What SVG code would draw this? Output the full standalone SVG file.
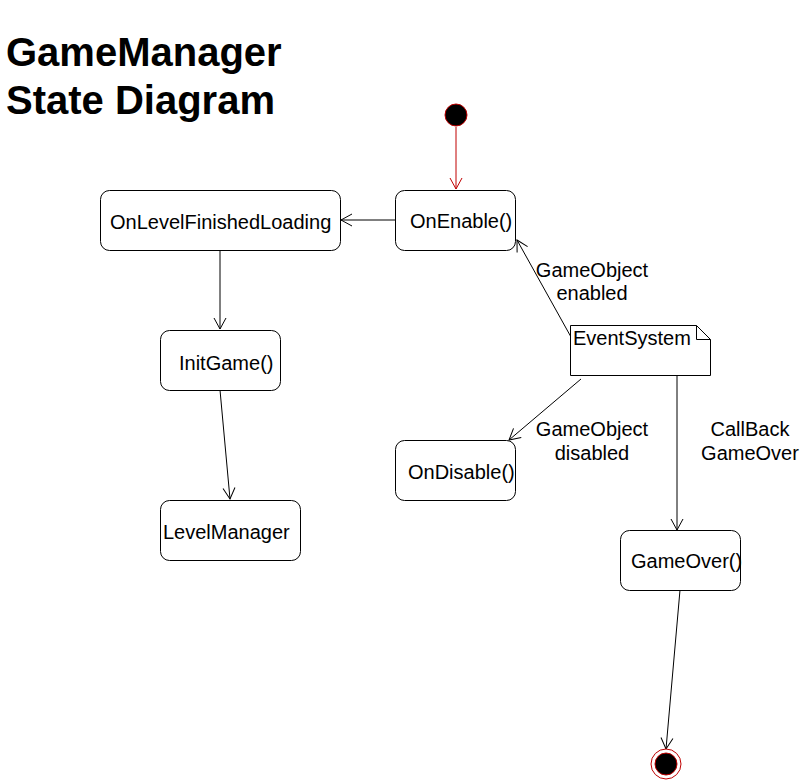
<svg xmlns="http://www.w3.org/2000/svg" width="800" height="781" viewBox="0 0 800 781">
<style>
.node{fill:#fff;stroke:#000;stroke-width:1}
.t{font-family:"Liberation Sans",Arial,sans-serif;font-size:20px;fill:#000}
.title{font-family:"Liberation Sans",Arial,sans-serif;font-size:40px;font-weight:bold;fill:#000}
.edge{stroke:#000;stroke-width:1;fill:none}
.red{stroke:#c00000;stroke-width:1;fill:none}
</style>
<defs>
<marker id="a" viewBox="0 0 14 14" refX="12" refY="7" markerWidth="14" markerHeight="14" markerUnits="userSpaceOnUse" orient="auto">
<path d="M1,1 L12,7 L1,13" fill="none" stroke="#000" stroke-width="1"/>
</marker>
<marker id="ar" viewBox="0 0 14 14" refX="12" refY="7" markerWidth="14" markerHeight="14" markerUnits="userSpaceOnUse" orient="auto">
<path d="M1,1 L12,7 L1,13" fill="none" stroke="#c00000" stroke-width="1"/>
</marker>
</defs>
<rect width="800" height="781" fill="#fff"/>
<g id="title">
<text class="title" x="6" y="66">GameManager</text>
<text class="title" x="6" y="114">State Diagram</text>
</g>
<g id="connectors">
<line class="red" x1="456" y1="127" x2="456" y2="189" marker-end="url(#ar)"/>
<line class="edge" x1="395" y1="220" x2="341" y2="220" marker-end="url(#a)"/>
<line class="edge" x1="220" y1="250" x2="220" y2="329" marker-end="url(#a)"/>
<line class="edge" x1="220" y1="390" x2="230" y2="499" marker-end="url(#a)"/>
<line class="edge" x1="571" y1="337" x2="517" y2="240" marker-end="url(#a)"/>
<line class="edge" x1="581" y1="379" x2="509" y2="440" marker-end="url(#a)"/>
<line class="edge" x1="677" y1="375" x2="677" y2="530" marker-end="url(#a)"/>
<line class="edge" x1="680" y1="590" x2="666" y2="749" marker-end="url(#a)"/>
<text class="t" x="592" y="277" text-anchor="middle">GameObject</text>
<text class="t" x="592" y="300" text-anchor="middle">enabled</text>
<text class="t" x="592" y="436" text-anchor="middle">GameObject</text>
<text class="t" x="592" y="460" text-anchor="middle">disabled</text>
<text class="t" x="750" y="436" text-anchor="middle">CallBack</text>
<text class="t" x="750" y="460" text-anchor="middle">GameOver</text>
</g>
<g id="start">
<circle cx="456" cy="115" r="11" fill="#000" stroke="#c00000" stroke-width="1"/>
</g>
<g id="end">
<circle cx="666" cy="764" r="15" fill="#fff" stroke="#c00000" stroke-width="1"/>
<circle cx="666" cy="764" r="11" fill="#000" stroke="#c00000" stroke-width="1"/>
</g>
<g id="onLevelFinishedLoading">
<rect class="node" x="100.5" y="190.5" width="240" height="60" rx="9"/>
<text class="t" x="110" y="229">OnLevelFinishedLoading</text>
</g>
<g id="onEnable">
<rect class="node" x="395.5" y="190.5" width="120" height="60" rx="9"/>
<text class="t" x="410" y="228">OnEnable()</text>
</g>
<g id="initGame">
<rect class="node" x="160.5" y="330.5" width="120" height="60" rx="9"/>
<text class="t" x="179" y="370">InitGame()</text>
</g>
<g id="levelManager">
<rect class="node" x="160.5" y="500.5" width="140" height="60" rx="9"/>
<text class="t" x="163" y="539">LevelManager</text>
</g>
<g id="eventSystem">
<path class="node" d="M570.5,325.5 H696.5 L710.5,339.5 V375.5 H570.5 Z"/>
<path class="edge" d="M696.5,325.5 V339.5 H710.5"/>
<text class="t" x="573" y="345">EventSystem</text>
</g>
<g id="onDisable">
<rect class="node" x="395.5" y="440.5" width="120" height="60" rx="9"/>
<text class="t" x="408" y="479">OnDisable()</text>
</g>
<g id="gameOver">
<rect class="node" x="620.5" y="530.5" width="120" height="60" rx="9"/>
<text class="t" x="631" y="568">GameOver()</text>
</g>
</svg>
